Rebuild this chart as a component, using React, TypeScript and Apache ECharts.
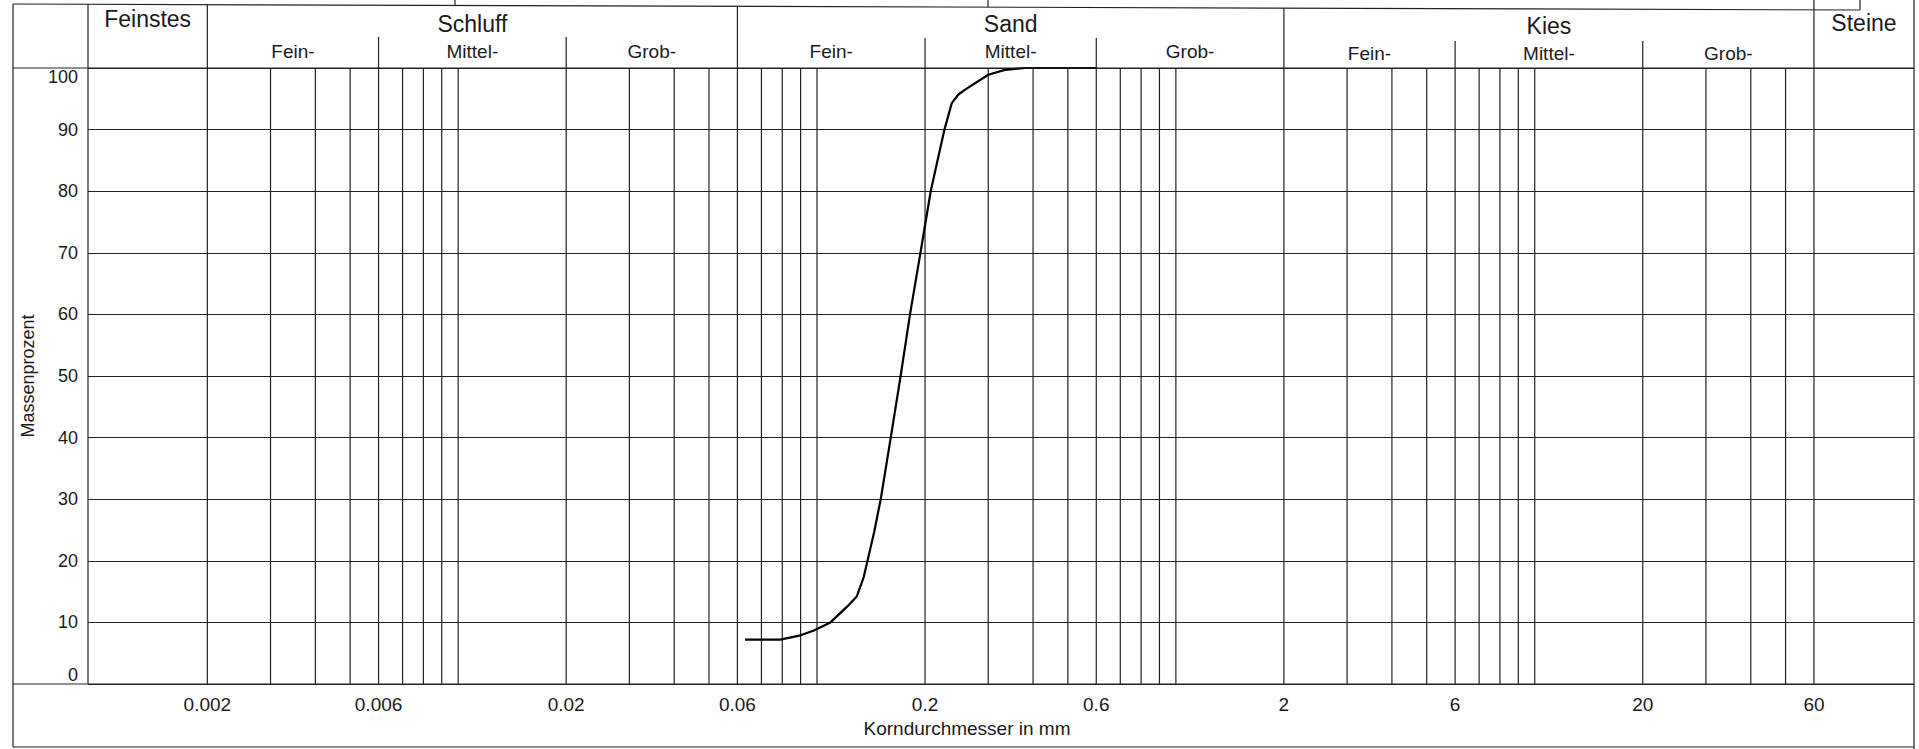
import React, { useEffect, useRef } from "react";
import * as echarts from "echarts";

// ---------------- data ----------------
// Grain size distribution (Körnungslinie): grain diameter in mm vs. percent passing
const grainSizeMm = [
  0.063, 0.079, 0.09, 0.098, 0.109, 0.1215, 0.129, 0.135, 0.1442, 0.1505,
  0.1605, 0.171, 0.1816, 0.1942, 0.2074, 0.2265, 0.2374, 0.2477, 0.2587, 0.3,
  0.334, 0.38, 0.6,
];
const passingPct = [
  7.2, 7.2, 7.9, 8.7, 10, 12.6, 14.2, 17.4, 24.6, 30,
  40, 50, 60, 70, 80, 90, 94.3, 95.7, 96.5, 98.9,
  99.7, 100, 100,
];

const xTickLabels = [0.002, 0.006, 0.02, 0.06, 0.2, 0.6, 2, 6, 20, 60];

const verticalGridValues = [
  0.002, 0.003, 0.004, 0.005, 0.006, 0.007, 0.008, 0.009,
  0.01, 0.02, 0.03, 0.04, 0.05, 0.06, 0.07, 0.08, 0.09,
  0.1, 0.2, 0.3, 0.4, 0.5, 0.6, 0.7, 0.8, 0.9,
  1, 2, 3, 4, 5, 6, 7, 8, 9,
  10, 20, 30, 40, 50, 60,
];

const X_MIN = 0.00093;
const X_MAX = 114;

const mainClassNames = ["Feinstes", "Schluff", "Sand", "Kies", "Steine"];
const mainClassBounds = [X_MIN, 0.002, 0.06, 2, 60, X_MAX];
const subClassNames = ["Fein-", "Mittel-", "Grob-"];
const subClassBounds = [
  [0.002, 0.006, 0.02, 0.06],
  [0.06, 0.2, 0.6, 2],
  [2, 6, 20, 60],
];

// ---------------- styling ----------------
const FONT = "'Liberation Sans', Arial, Helvetica, sans-serif";
const INK = "#1a1a1a";
const LINE = "#222";
const LW = 1.2;

const W = 1919;
const H = 749;

export default function App() {
  const ref = useRef<HTMLDivElement>(null);

  useEffect(() => {
    const el = ref.current;
    if (!el) return;
    const chart = echarts.init(el, null, { renderer: "svg" });

    const option: any = {
      animation: false,
      backgroundColor: "#fff",
      grid: {
        left: 88,
        right: W - 1914,
        top: 68,
        bottom: H - 684,
        containLabel: false,
        outerBoundsMode: "none",
      },
      xAxis: {
        type: "log",
        logBase: 10,
        min: X_MIN,
        max: X_MAX,
        axisLine: { show: false },
        axisTick: { show: false },
        splitLine: { show: false },
        minorTick: { show: false },
        minorSplitLine: { show: false },
        axisLabel: {
          show: true,
          customValues: xTickLabels,
          formatter: (v: number) => String(+v.toPrecision(6)),
          fontFamily: FONT,
          fontSize: 19,
          color: INK,
          margin: 11,
        },
        name: "Korndurchmesser in mm",
        nameLocation: "middle",
        nameGap: 30,
        nameTextStyle: {
          fontFamily: FONT,
          fontSize: 19,
          color: INK,
          padding: [0, 68, 0, 0],
        },
      },
      yAxis: {
        type: "value",
        min: 0,
        max: 100,
        interval: 10,
        axisLine: { show: false },
        axisTick: { show: false },
        splitLine: { show: true, lineStyle: { color: LINE, width: LW } },
        axisLabel: {
          fontFamily: FONT,
          fontSize: 18,
          color: INK,
          margin: 10,
          verticalAlignMinLabel: "bottom",
          verticalAlignMaxLabel: "top",
        },
        name: "Massenprozent",
        nameLocation: "middle",
        nameGap: 40,
        nameTextStyle: { fontFamily: FONT, fontSize: 18, color: INK },
      },
      series: [
        {
          // vertical log grid lines, positioned by the x axis scale
          type: "custom",
          silent: true,
          z: 1,
          data: verticalGridValues.map((v) => [v, 0]),
          encode: { x: 0, y: 1 },
          renderItem: (_params: any, api: any) => {
            const v = api.value(0);
            const p0 = api.coord([v, 0]);
            const p1 = api.coord([v, 100]);
            return {
              type: "line",
              shape: { x1: p0[0], y1: p0[1], x2: p1[0], y2: p1[1] },
              style: { stroke: LINE, lineWidth: LW },
            };
          },
        },
        {
          type: "line",
          data: grainSizeMm.map((d, i) => [d, passingPct[i]]),
          showSymbol: false,
          smooth: false,
          lineStyle: { color: "#000", width: 2.2, join: "round" },
          z: 5,
          silent: true,
        },
      ],
    };

    chart.setOption(option);

    const px = (v: number) => chart.convertToPixel({ xAxisIndex: 0 }, v) as number;
    const py = (v: number) => chart.convertToPixel({ yAxisIndex: 0 }, v) as number;

    const yTop = py(100);
    const yBot = py(0);
    const xLeft = px(X_MIN);
    const xRight = px(X_MAX);

    const line = (x1: number, y1: number, x2: number, y2: number, lw = LW) => ({
      type: "line",
      silent: true,
      z: 10,
      shape: { x1, y1, x2, y2 },
      style: { stroke: LINE, lineWidth: lw },
    });
    const text = (t: string, x: number, y: number, size: number) => ({
      type: "text",
      silent: true,
      z: 10,
      x,
      y,
      style: {
        text: t,
        fill: INK,
        fontFamily: FONT,
        fontSize: size,
        align: "center",
        verticalAlign: "middle",
      },
    });

    const frameLeft = 13;
    const topLeftY = 4;
    const topRightX = 1860;
    const topRightY = 10;

    const g: any[] = [];
    // outer frame
    g.push(line(frameLeft, topLeftY, frameLeft, H - 2));
    g.push(line(frameLeft, topLeftY, topRightX, topRightY));
    g.push(line(topRightX, 0, topRightX, topRightY));
    g.push(line(xRight, 0, xRight, H));
    g.push(line(frameLeft, H - 2, xRight, H - 2));
    // small ticks at the cut-off top row
    g.push(line(455, 0, 455, 5));
    g.push(line(988, 0, 988, 7));
    // header bottom (100 %) and x-axis line across full width
    g.push(line(frameLeft, yTop, xRight, yTop));
    g.push(line(frameLeft, yBot, xRight, yBot));
    // left boundary of plot area running into the header
    g.push(line(xLeft, topLeftY + 0.3, xLeft, yBot));

    // main class separators in header
    for (let i = 1; i < mainClassBounds.length - 1; i++) {
      const b = mainClassBounds[i];
      const x = px(b);
      const yStart = b === 60 ? 0 : topLeftY + ((x - frameLeft) / (topRightX - frameLeft)) * (topRightY - topLeftY);
      g.push(line(x, yStart, x, yTop));
    }
    // main class names
    const mainY = [19, 24, 24, 26, 23];
    for (let i = 0; i < mainClassNames.length; i++) {
      const cx = (px(mainClassBounds[i]) + px(mainClassBounds[i + 1])) / 2;
      g.push(text(mainClassNames[i], cx, mainY[i], 23));
    }
    // sub classes
    const subTop = [37, 38, 41];
    const subY = [51, 51, 53];
    subClassBounds.forEach((bounds, gi) => {
      for (let j = 1; j < bounds.length - 1; j++) {
        const x = px(bounds[j]);
        g.push(line(x, subTop[gi], x, yTop));
      }
      for (let j = 0; j < subClassNames.length; j++) {
        const cx = (px(bounds[j]) + px(bounds[j + 1])) / 2;
        g.push(text(subClassNames[j], cx, subY[gi], 19));
      }
    });

    chart.setOption({ graphic: g });

    return () => {
      chart.dispose();
    };
  }, []);

  return (
    <div
      ref={ref}
      style={{
        position: "fixed",
        left: 0,
        top: 0,
        width: W,
        height: H,
        background: "#fff",
      }}
    />
  );
}
